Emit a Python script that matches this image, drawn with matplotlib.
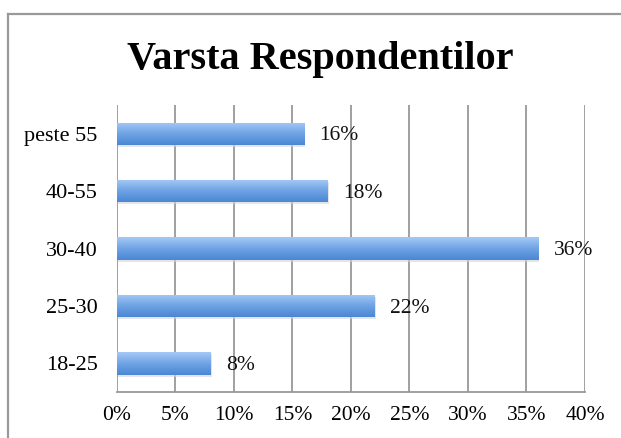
import numpy as np
import matplotlib
matplotlib.use('Agg')
import matplotlib.pyplot as plt
from matplotlib.patches import Rectangle
from matplotlib.lines import Line2D
from matplotlib.colors import LinearSegmentedColormap

# data, bottom to top
categories = ['18-25', '25-30', '30-40', '40-55', 'peste 55']
values = [8, 22, 36, 18, 16]
xticks = [0, 5, 10, 15, 20, 25, 30, 35, 40]

plt.rcParams['font.family'] = ['Liberation Serif', 'DejaVu Serif']

fig = plt.figure(figsize=(6.21, 4.38), dpi=100)
ax = fig.add_axes([0.1884, 0.105, 0.7536, 0.655])

# frame around the chart (only left and top edges show in the crop)
fx = 7.5 / 621
fy = 1 - 13.5 / 438
fig.lines.append(Line2D([fx, fx], [0, fy], transform=fig.transFigure,
                        color='#999999', linewidth=1.6))
fig.lines.append(Line2D([fx, 1], [fy, fy], transform=fig.transFigure,
                        color='#999999', linewidth=1.6))

ypos = np.arange(len(categories))
bar_h = 0.39
bars = ax.barh(ypos, values, height=bar_h, color='#6fa3e4', zorder=3)

# soft shadow under the bars
for b in bars:
    sh = Rectangle((b.get_x() + 0.1, b.get_y() - 0.035), b.get_width(), b.get_height(),
                   facecolor='#d4d4d4', edgecolor='none', alpha=0.6, zorder=2)
    ax.add_patch(sh)

# vertical gradient fill
cmap = LinearSegmentedColormap.from_list('bargrad', ['#4a87d3', '#6fa3e4', '#a4c9f6'])
grad = np.linspace(0, 1, 100).reshape(-1, 1)
for b in bars:
    x0, y0, w, h = b.get_x(), b.get_y(), b.get_width(), b.get_height()
    im = ax.imshow(grad, cmap=cmap, extent=[x0, x0 + w, y0, y0 + h],
                   origin='lower', aspect='auto', zorder=4)
    im.set_clip_path(b)

for v, y in zip(values, ypos):
    ax.annotate(f'{v}%', (v, y), xytext=(11, -1.5), textcoords='offset points',
                ha='left', va='center', fontsize=15.5, color='#111111', zorder=5)

ax.set_xlim(0, 40)
ax.set_ylim(-0.5, 4.5)
ax.set_xticks(xticks)
ax.set_xticklabels([f'{t}%' for t in xticks], fontsize=15.5)
ax.set_yticks(ypos)
ax.set_yticklabels(categories, fontsize=16)
ax.tick_params(length=0)
ax.tick_params(axis='x', pad=10)
ax.tick_params(axis='y', pad=14)
ax.grid(axis='x', color='#999999', linewidth=1.3, zorder=1)
ax.set_axisbelow(True)
for s in ['top', 'right', 'left']:
    ax.spines[s].set_visible(False)
ax.spines['bottom'].set_color('#999999')
ax.spines['bottom'].set_linewidth(1.3)

fig.text(0.515, 0.865, 'Varsta Respondentilor', ha='center', va='center',
         fontsize=29, fontweight='bold')

fig.savefig('out.png', dpi=100)
